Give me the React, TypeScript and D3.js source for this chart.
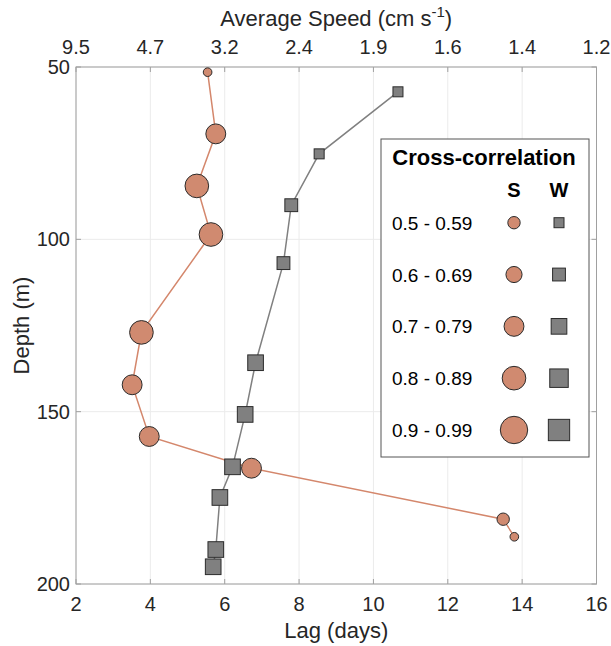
import React from "react";
import * as d3 from "d3";

// ---- Data ----
const sLag = [5.54, 5.76, 5.25, 5.63, 3.76, 3.51, 3.97, 6.72, 13.49, 13.79];
const sDepth = [51.5, 69.4, 84.5, 98.6, 127.0, 142.2, 157.2, 166.4, 181.2, 186.3];
const sCorr = [0.45, 0.75, 0.85, 0.85, 0.85, 0.75, 0.75, 0.75, 0.55, 0.45];

const wLag = [10.66, 8.54, 7.79, 7.58, 6.83, 6.55, 6.21, 5.87, 5.76, 5.69];
const wDepth = [57.2, 75.2, 90.1, 106.9, 135.8, 150.8, 166.0, 174.9, 190.0, 195.0];
const wCorr = [0.55, 0.55, 0.65, 0.65, 0.75, 0.75, 0.75, 0.75, 0.75, 0.75];

const lagTicks = [2, 4, 6, 8, 10, 12, 14, 16];
const speedTickLabels = ["9.5", "4.7", "3.2", "2.4", "1.9", "1.6", "1.4", "1.2"];
const depthTicks = [50, 100, 150, 200];

const legendLabels = ["0.5 - 0.59", "0.6 - 0.69", "0.7 - 0.79", "0.8 - 0.89", "0.9 - 0.99"];
const legendCorr = [0.55, 0.65, 0.75, 0.85, 0.95];

// ---- Styles ----
const W = 611;
const H = 646;
const FONT = "'Liberation Sans', Arial, Helvetica, sans-serif";
const TEXT = "#262626";
const AXIS = "#a0a0a0";
const GRID = "#ebebeb";
const S_FILL = "#d08a70";
const S_LINE = "#d4876c";
const W_FILL = "#808080";
const W_LINE = "#808080";
const MARK_STROKE = "#2b2b2b";
const TICK_FS = 20;
const TITLE_FS = 22;

export default function App() {
  const x = d3.scaleLinear().domain([2, 16]).range([76, 596.5]);
  const y = d3.scaleLinear().domain([50, 200]).range([67, 584]);
  const rScale = d3.scaleLinear().domain([0.55, 0.95]).range([6.2, 13.7]);
  const sqScale = d3.scaleLinear().domain([0.55, 0.95]).range([10, 21.3]);

  const line = d3
    .line<[number, number]>()
    .x((d) => x(d[0]))
    .y((d) => y(d[1]));

  const sPts: [number, number][] = sLag.map((v, i) => [v, sDepth[i]]);
  const wPts: [number, number][] = wLag.map((v, i) => [v, wDepth[i]]);

  const [x0, x1] = x.range();
  const [y0, y1] = y.range();
  const tick = 5;

  // legend geometry
  const lg = { left: 381, top: 139, right: 589, bottom: 457 };
  const legY = d3.scalePoint<number>().domain(legendCorr).range([222.7, 430]);
  const sX = 514;
  const wX = 559;

  return (
    <svg
      width={W}
      height={H}
      style={{ position: "absolute", left: 0, top: 0, background: "#fff" }}
      fontFamily={FONT}
    >
      <rect x={0} y={0} width={W} height={H} fill="#fff" />
      {/* grid */}
      {lagTicks.map((t) => (
        <line key={"gx" + t} x1={x(t)} x2={x(t)} y1={y0} y2={y1} stroke={GRID} strokeWidth={1} />
      ))}
      {depthTicks.map((t) => (
        <line key={"gy" + t} x1={x0} x2={x1} y1={y(t)} y2={y(t)} stroke={GRID} strokeWidth={1} />
      ))}
      {/* frame */}
      <rect x={x0} y={y0} width={x1 - x0} height={y1 - y0} fill="none" stroke={AXIS} strokeWidth={1} />
      {/* ticks */}
      {lagTicks.map((t) => (
        <g key={"tx" + t}>
          <line x1={x(t)} x2={x(t)} y1={y1} y2={y1 - tick} stroke={AXIS} />
          <line x1={x(t)} x2={x(t)} y1={y0} y2={y0 + tick} stroke={AXIS} />
        </g>
      ))}
      {depthTicks.map((t) => (
        <g key={"ty" + t}>
          <line x1={x0} x2={x0 + tick} y1={y(t)} y2={y(t)} stroke={AXIS} />
          <line x1={x1} x2={x1 - tick} y1={y(t)} y2={y(t)} stroke={AXIS} />
        </g>
      ))}
      {/* tick labels */}
      {lagTicks.map((t) => (
        <text key={"lx" + t} x={x(t)} y={y1 + 27} fontSize={TICK_FS} fill={TEXT} textAnchor="middle">
          {t}
        </text>
      ))}
      {lagTicks.map((t, i) => (
        <text key={"lt" + t} x={x(t)} y={y0 - 13} fontSize={TICK_FS} fill={TEXT} textAnchor="middle">
          {speedTickLabels[i]}
        </text>
      ))}
      {depthTicks.map((t) => (
        <text key={"ly" + t} x={x0 - 6} y={y(t) + 7} fontSize={TICK_FS} fill={TEXT} textAnchor="end">
          {t}
        </text>
      ))}
      {/* axis titles */}
      <text x={(x0 + x1) / 2} y={638} fontSize={TITLE_FS} fill={TEXT} textAnchor="middle">
        Lag (days)
      </text>
      <text x={(x0 + x1) / 2} y={26} fontSize={TITLE_FS} fill={TEXT} textAnchor="middle">
        Average Speed (cm s
        <tspan dy={-9} fontSize={15}>-1</tspan>
        <tspan dy={9}>)</tspan>
      </text>
      <text
        transform={`translate(29,${(y0 + y1) / 2}) rotate(-90)`}
        fontSize={TITLE_FS}
        fill={TEXT}
        textAnchor="middle"
      >
        Depth (m)
      </text>
      {/* lines */}
      <path d={line(sPts) || ""} fill="none" stroke={S_LINE} strokeWidth={1.5} />
      <path d={line(wPts) || ""} fill="none" stroke={W_LINE} strokeWidth={1.5} />
      {/* markers */}
      {wPts.map((p, i) => {
        const s = sqScale(wCorr[i]);
        return (
          <rect
            key={"w" + i}
            x={x(p[0]) - s / 2}
            y={y(p[1]) - s / 2}
            width={s}
            height={s}
            fill={W_FILL}
            stroke={MARK_STROKE}
            strokeWidth={1}
          />
        );
      })}
      {sPts.map((p, i) => (
        <circle
          key={"s" + i}
          cx={x(p[0])}
          cy={y(p[1])}
          r={rScale(sCorr[i])}
          fill={S_FILL}
          stroke={MARK_STROKE}
          strokeWidth={1}
        />
      ))}
      {/* legend */}
      <rect
        x={lg.left}
        y={lg.top}
        width={lg.right - lg.left}
        height={lg.bottom - lg.top}
        fill="#fff"
        stroke="#555"
        strokeWidth={1}
      />
      <text x={(lg.left + lg.right) / 2 - 1} y={165} fontSize={22} fontWeight="bold" fill="#000" textAnchor="middle">
        Cross-correlation
      </text>
      <text x={sX} y={197} fontSize={20} fontWeight="bold" fill="#000" textAnchor="middle">
        S
      </text>
      <text x={wX} y={197} fontSize={20} fontWeight="bold" fill="#000" textAnchor="middle">
        W
      </text>
      {legendCorr.map((c, i) => {
        const cy = legY(c) as number;
        const s = sqScale(c);
        return (
          <g key={"lg" + i}>
            <text x={392} y={cy + 7} fontSize={19} fill="#000">
              {legendLabels[i]}
            </text>
            <circle cx={sX} cy={cy} r={rScale(c)} fill={S_FILL} stroke={MARK_STROKE} strokeWidth={1} />
            <rect x={wX - s / 2} y={cy - s / 2} width={s} height={s} fill={W_FILL} stroke={MARK_STROKE} strokeWidth={1} />
          </g>
        );
      })}
    </svg>
  );
}
